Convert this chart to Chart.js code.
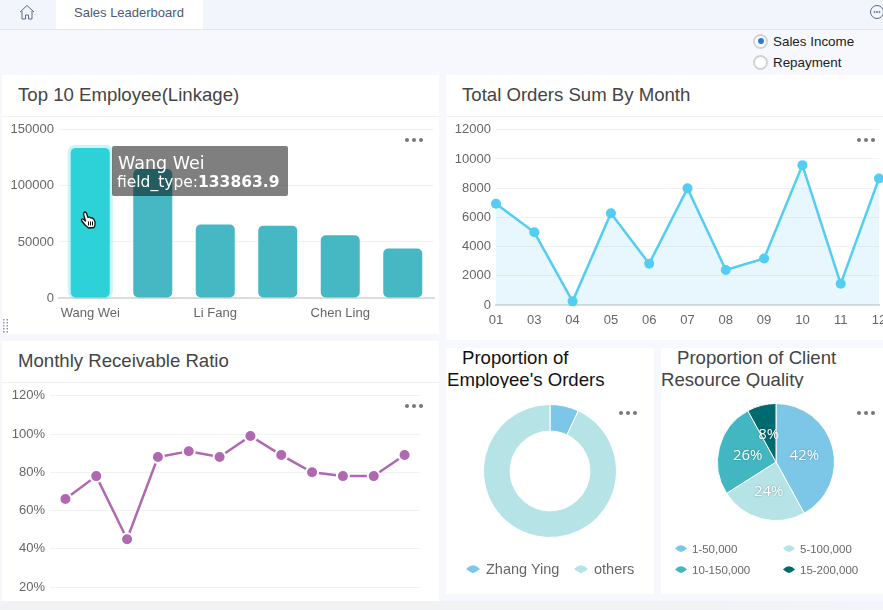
<!DOCTYPE html>
<html>
<head>
<meta charset="utf-8">
<title>Sales Leaderboard</title>
<script src="https://cdn.jsdelivr.net/npm/chart.js@4"></script>
<style>
html, body { margin: 0; padding: 0; width: 883px; height: 610px; overflow: hidden; background: #f6f8fd; font-family: "Liberation Sans", sans-serif; }
div, canvas, svg { position: absolute; }
span { white-space: nowrap; }
.topbar { left: 0; top: 0; width: 883px; height: 29px; background: #f2f5fc; border-bottom: 1px solid #e2e5ed; }
.tab { left: 56px; top: 0; width: 147px; height: 29px; background: #fff; color: #4b5a75; font-size: 13px; line-height: 25px; text-indent: 18px; }
.radio { width: 11px; height: 11px; border: 2px solid #cfd2d6; border-radius: 50%; background: #fff; }
.radio-dot { left: 2.5px; top: 2.5px; width: 6px; height: 6px; border-radius: 50%; background: #2f73e6; }
.radio-text { font-size: 13.4px; color: #222; line-height: 16px; }
.card { background: #fff; }
.title { font-size: 18.6px; color: #444; line-height: 22px; white-space: nowrap; }
.divider { height: 1px; background: #f1f1f3; }
.more { width: 18px; height: 4px; }
.more i { position: absolute; top: 0; width: 4px; height: 4px; border-radius: 50%; background: #777; }
.more i:nth-child(2) { left: 7px; }
.more i:nth-child(3) { left: 14px; }
.small-title { font-size: 18.6px; line-height: 22px; overflow: hidden; white-space: nowrap; }
.tooltip { left: 112px; top: 146px; width: 176px; height: 50px; background: rgba(0,0,0,.5); border-radius: 2px; color: #fff; font-family: "DejaVu Sans", sans-serif; }
.legend-text { color: #666; white-space: nowrap; }
.bottom-band { left: 0; top: 601px; width: 883px; height: 9px; background: linear-gradient(to right, #f1f2f4 80%, #f3f5fb); }
</style>
</head>
<body>
<div class="topbar"></div>
<div class="tab">Sales Leaderboard</div>
<svg style="left:19px;top:4px" width="16" height="16" viewBox="0 0 16 16" fill="none" stroke="#5a6a85" stroke-width="1"><path d="M1 8 L8 1.5 L15 8 M3 7 V15 H6.5 V11 H9.5 V15 H13 V7"/></svg>
<svg style="left:868px;top:4px" width="16" height="16" viewBox="0 0 16 16" fill="none" stroke="#5a6a85" stroke-width="1"><circle cx="9" cy="8" r="6.5"/><circle cx="6.5" cy="8" r=".6"/><circle cx="9" cy="8" r=".6"/><circle cx="11.5" cy="8" r=".6"/></svg>

<div class="radio" style="left:753px;top:33.5px"><div class="radio-dot"></div></div>
<div class="radio-text" style="left:773px;top:34px">Sales Income</div>
<div class="radio" style="left:753px;top:54.5px"></div>
<div class="radio-text" style="left:773px;top:55px">Repayment</div>

<div class="bottom-band"></div>

<!-- cards -->
<div class="card" style="left:2px;top:75px;width:437px;height:259px"></div>
<div class="divider" style="left:2px;top:116px;width:437px"></div>
<div class="title" style="left:18px;top:84px">Top 10 Employee(Linkage)</div>
<canvas id="employeeChart" style="left:2px;top:117px"></canvas>

<div class="card" style="left:446px;top:75px;width:437px;height:265px"></div>
<div class="divider" style="left:446px;top:116px;width:437px"></div>
<div class="title" style="left:462px;top:84px">Total Orders Sum By Month</div>
<canvas id="ordersChart" style="left:446px;top:117px"></canvas>

<div class="card" style="left:2px;top:341px;width:437px;height:260px"></div>
<div class="divider" style="left:2px;top:382px;width:437px"></div>
<div class="title" style="left:18px;top:350px">Monthly Receivable Ratio</div>
<canvas id="ratioChart" style="left:2px;top:383px"></canvas>

<div class="card" style="left:446px;top:348px;width:208px;height:246px"></div>
<div class="small-title" style="left:447px;top:347px;width:206px;height:41px;color:#111"><span style="margin-left:15px">Proportion of</span><br>Employee's Orders</div>
<canvas id="employeeShareChart" style="left:446px;top:389px"></canvas>
<div id="shareLegend"></div>

<div class="card" style="left:661px;top:348px;width:222px;height:246px"></div>
<div class="small-title" style="left:661px;top:347px;width:222px;height:41px;color:#444"><span style="margin-left:16px">Proportion of Client</span><br>Resource Quality</div>
<canvas id="clientChart" style="left:661px;top:389px"></canvas>
<div id="clientLegend"></div>

<div class="more" style="left:405px;top:138px"><i></i><i></i><i></i></div>
<div class="more" style="left:857px;top:138px"><i></i><i></i><i></i></div>
<div class="more" style="left:405px;top:404px"><i></i><i></i><i></i></div>
<div class="more" style="left:619px;top:411px"><i></i><i></i><i></i></div>
<div class="more" style="left:857px;top:411px"><i></i><i></i><i></i></div>

<svg style="left:3px;top:319px" width="6" height="15" viewBox="0 0 6 15" fill="#8d9399"><path d="M0 0h1.5v1.5H0zM3.5 0H5v1.5H3.5zM0 3h1.5v1.5H0zM3.5 3H5v1.5H3.5zM0 6h1.5v1.5H0zM3.5 6H5v1.5H3.5zM0 9h1.5v1.5H0zM3.5 9H5v1.5H3.5zM0 12h1.5v1.5H0zM3.5 12H5v1.5H3.5z"/></svg>

<div class="tooltip">
  <div id="tooltipName" style="left:6px;top:6px;font-size:17.5px;line-height:22px;white-space:nowrap"></div>
  <div id="tooltipValue" style="left:5px;top:27px;font-size:15.5px;line-height:18px;white-space:nowrap"></div>
</div>
<svg style="left:80px;top:211px" width="17" height="18" viewBox="0 0 17 18"><path d="M4 1.5 C5 .6 6 1 6.4 2 L8 6.5 L9.5 6 L11 7 L12.5 7 L14 8.5 C15 10 15.5 12 15 14 L14 16.5 L8.5 17 L5 14 L1.5 9.5 C1 8.5 2 7.5 3 8 L5.5 10 L3.5 3 Z" fill="#fff" stroke="#111" stroke-width="1.3" stroke-linejoin="round"/><path d="M8.5 10.5v4M10.5 10.5v4M12.5 10.5v4" stroke="#111" stroke-width="1"/></svg>

<script>
// === DATA ===
const employeeNames = ['Wang Wei', '', 'Li Fang', '', 'Chen Ling', ''];
const employeeSales = [133863.9, 115000, 65500, 64400, 55900, 44100];

const orderMonths = ['01', '03', '04', '05', '06', '07', '08', '09', '10', '11', '12'];
const orderTotals = [6930, 4980, 250, 6290, 2830, 7990, 2400, 3190, 9580, 1450, 8670];

const ratioMonths = ['01', '02', '03', '04', '05', '06', '07', '08', '09', '10', '11', '12'];
const ratioValues = [66, 78, 45, 88, 91, 88, 99, 89, 80, 78, 78, 89];

const shareLabels = ['Zhang Ying', 'others'];
const shareValues = [7, 93];

const clientLabels = ['1-50,000', '5-100,000', '10-150,000', '15-200,000'];
const clientValues = [42, 24, 26, 8];

const shareColors = ['#7cc7e8', '#b5e3e6'];
const clientColors = ['#7cc7e8', '#b5e3e6', '#42b7c1', '#006a6e'];

Chart.defaults.font.family = '"Liberation Sans", sans-serif';
Chart.defaults.font.size = 13;
Chart.defaults.color = '#666';
Chart.defaults.animation = false;
Chart.defaults.responsive = false;
Chart.defaults.plugins.legend.display = false;
Chart.defaults.plugins.tooltip.enabled = false;

const gridColor = '#f2f2f4';
const activeIndex = 0;

function setSize(id, w, h) {
    const canvas = document.getElementById(id);
    canvas.width = w;
    canvas.height = h;
    canvas.style.width = w + 'px';
    canvas.style.height = h + 'px';
    return canvas;
}

// Halo around the hovered bar
const barHalo = {
    id: 'barHalo',
    beforeDatasetsDraw(chart) {
        const bar = chart.getDatasetMeta(0).data[activeIndex];
        const half = bar.width / 2 + 3;
        const ctx = chart.ctx;
        ctx.save();
        ctx.fillStyle = 'rgba(45,210,216,.25)';
        ctx.beginPath();
        ctx.roundRect(bar.x - half, bar.y - 3, half * 2, bar.base - bar.y + 4, 7);
        ctx.fill();
        ctx.restore();
    }
};

// Percent labels inside the pie slices
const sliceLabels = {
    id: 'sliceLabels',
    afterDatasetsDraw(chart) {
        const ctx = chart.ctx;
        const total = clientValues.reduce((a, b) => a + b, 0);
        ctx.save();
        ctx.font = '15px "Open Sans", sans-serif';
        ctx.fillStyle = '#fff';
        ctx.textAlign = 'center';
        ctx.textBaseline = 'middle';
        ctx.shadowColor = 'rgba(0,0,0,.35)';
        ctx.shadowBlur = 2;
        chart.getDatasetMeta(0).data.forEach((arc, i) => {
            const mid = (arc.startAngle + arc.endAngle) / 2;
            const r = arc.outerRadius * 0.5;
            const text = Math.round(clientValues[i] / total * 100) + '%';
            ctx.fillText(text, arc.x + Math.cos(mid) * r, arc.y + Math.sin(mid) * r + 1);
        });
        ctx.restore();
    }
};

// === TOP 10 EMPLOYEE ===
new Chart(setSize('employeeChart', 437, 217), {
    type: 'bar',
    data: {
        labels: employeeNames,
        datasets: [{
            data: employeeSales,
            backgroundColor: employeeSales.map((v, i) => i === activeIndex ? '#2dd2d8' : '#46b8c3'),
            borderRadius: 5,
            borderSkipped: false,
            categoryPercentage: 1,
            barPercentage: 0.624
        }]
    },
    options: {
        layout: { padding: { top: 11, right: 5 } },
        scales: {
            x: {
                grid: { display: false, drawTicks: false },
                border: { color: '#dcdcdc', width: 2 },
                ticks: { autoSkip: false, maxRotation: 0, padding: 8 },
                afterFit: s => { s.height = 36; }
            },
            y: {
                min: 0,
                max: 150000,
                grid: { color: gridColor, drawTicks: false },
                border: { display: false },
                ticks: { stepSize: 50000, padding: 5, callback: v => v },
                afterFit: s => { s.width = 57; }
            }
        }
    },
    plugins: [barHalo]
});

document.getElementById('tooltipName').textContent = employeeNames[activeIndex];
document.getElementById('tooltipValue').innerHTML = 'field_type:<b>' + employeeSales[activeIndex] + '</b>';

// === TOTAL ORDERS ===
new Chart(setSize('ordersChart', 457, 223), {
    type: 'line',
    data: {
        labels: orderMonths,
        datasets: [{
            data: orderTotals,
            borderColor: '#54cdf2',
            backgroundColor: 'rgba(90,195,240,.14)',
            borderWidth: 2.5,
            fill: 'origin',
            tension: 0,
            clip: false,
            pointRadius: 5,
            pointBorderWidth: 0,
            pointBackgroundColor: '#54cdf2'
        }]
    },
    options: {
        layout: { padding: { top: 11, right: 24 } },
        scales: {
            x: {
                grid: { display: false, drawTicks: false },
                border: { color: '#dcdcdc', width: 2 },
                ticks: { autoSkip: false, maxRotation: 0, padding: 8 },
                afterFit: s => { s.height = 35; }
            },
            y: {
                min: 0,
                max: 12000,
                grid: { color: gridColor, drawTicks: false },
                border: { display: false },
                ticks: { stepSize: 2000, padding: 5, callback: v => v },
                afterFit: s => { s.width = 50; }
            }
        }
    }
});

// === MONTHLY RECEIVABLE RATIO ===
new Chart(setSize('ratioChart', 437, 218), {
    type: 'line',
    data: {
        labels: ratioMonths,
        datasets: [{
            data: ratioValues,
            borderColor: '#b068b0',
            borderWidth: 2.5,
            tension: 0,
            pointRadius: 6,
            pointBorderWidth: 2,
            pointBorderColor: '#fff',
            pointBackgroundColor: '#b068b0'
        }]
    },
    options: {
        layout: { padding: { top: 11, bottom: 14, right: 19 } },
        scales: {
            x: { display: false, offset: true },
            y: {
                min: 20,
                max: 120,
                grid: { color: gridColor, drawTicks: false },
                border: { display: false },
                ticks: { stepSize: 20, padding: 5, callback: v => v + '%' },
                afterFit: s => { s.width = 48; }
            }
        }
    }
});

// === EMPLOYEE SHARE ===
new Chart(setSize('employeeShareChart', 208, 205), {
    type: 'doughnut',
    data: {
        labels: shareLabels,
        datasets: [{ data: shareValues, backgroundColor: shareColors, borderColor: '#fff', borderWidth: 1 }]
    },
    options: {
        cutout: '60%',
        layout: { padding: { top: 15, bottom: 56 } }
    }
});

// === CLIENT QUALITY ===
new Chart(setSize('clientChart', 230, 205), {
    type: 'pie',
    data: {
        labels: clientLabels,
        datasets: [{ data: clientValues, backgroundColor: clientColors, borderColor: '#fff', borderWidth: 1 }]
    },
    options: {
        layout: { padding: { top: 14, bottom: 73 } }
    },
    plugins: [sliceLabels]
});

// === LEGENDS ===
function addLegendItem(box, label, color, x, y, fontSize, textGap, iconW) {
    const h = iconW * 0.6;
    box.insertAdjacentHTML('beforeend',
        `<svg style="left:${x}px;top:${y - h / 2}px" width="${iconW}" height="${h}" viewBox="0 0 14 8.4"><path d="M0 4 Q3.5 .3 7 .3 Q10.5 .3 14 4 Q10.5 7 7 8.2 Q3.5 7 0 4Z" fill="${color}"/></svg>` +
        `<div class="legend-text" style="left:${x + iconW + textGap}px;top:${y - 10}px;font-size:${fontSize}px;line-height:20px">${label}</div>`);
}

const shareBox = document.getElementById('shareLegend');
const sharePos = [[466, 569], [574, 569]];
shareLabels.forEach((label, i) => {
    addLegendItem(shareBox, label, shareColors[i], sharePos[i][0], sharePos[i][1], 14.5, 6, 14);
});

const clientBox = document.getElementById('clientLegend');
const clientPos = [[675, 549], [783, 549], [675, 570], [783, 570]];
clientLabels.forEach((label, i) => {
    addLegendItem(clientBox, label, clientColors[i], clientPos[i][0], clientPos[i][1], 11.5, 5, 12);
});
</script>
</body>
</html>
